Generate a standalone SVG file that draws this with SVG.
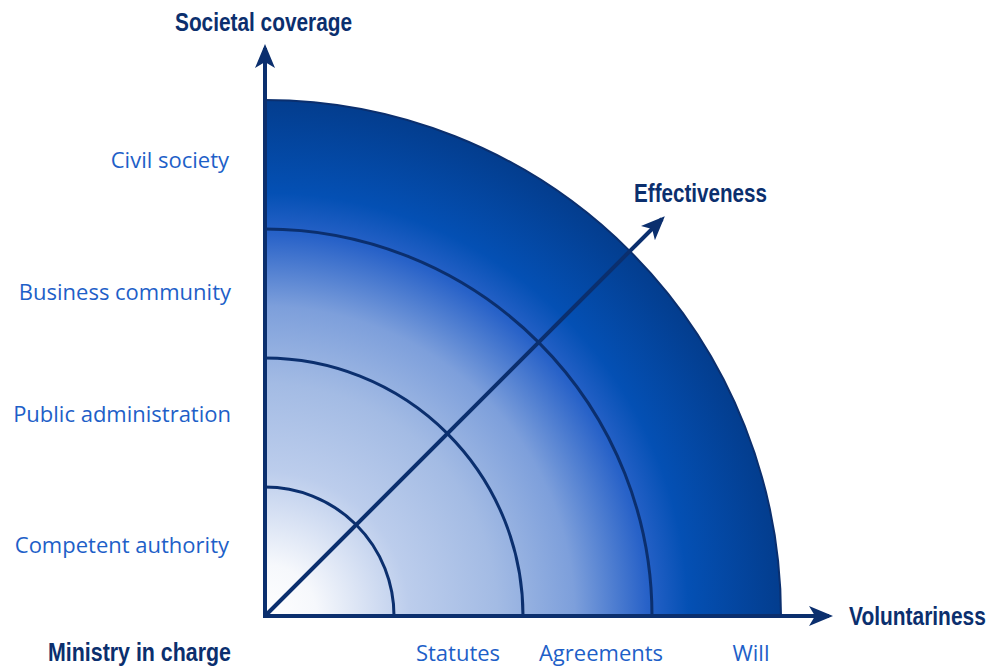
<svg xmlns="http://www.w3.org/2000/svg" width="994" height="667" viewBox="0 0 994 667">
<defs>
<radialGradient id="g" gradientUnits="userSpaceOnUse" cx="265" cy="616" r="516">
<stop offset="0" stop-color="#ffffff"/>
<stop offset="0.1" stop-color="#f6f8fc"/>
<stop offset="0.28" stop-color="#bccdec"/>
<stop offset="0.45" stop-color="#a3bbe4"/>
<stop offset="0.6" stop-color="#7d9fdb"/>
<stop offset="0.74" stop-color="#2862c8"/>
<stop offset="0.82" stop-color="#0450b4"/>
<stop offset="1" stop-color="#033d8e"/>
</radialGradient>
<marker id="ah" viewBox="0 0 24 20" refX="20" refY="10" markerWidth="24" markerHeight="20" markerUnits="userSpaceOnUse" orient="auto">
<path d="M0,0 L24,10 L0,20 L6,10 Z" fill="#0b2f6e"/>
</marker>
<style>
.arc{fill:none;stroke:#0b2f6e;stroke-width:3}
.ax{fill:none;stroke:#0b2f6e;stroke-width:4}
.lbl{font-family:"Open Sans","Liberation Sans",sans-serif;font-size:22px;fill:#1e5fc8}
.ttl{font-family:"Liberation Sans",sans-serif;font-weight:bold;font-size:26px;fill:#0b2f6e}
</style>
</defs>
<g id="disc">
<path d="M265,616 L781,616 A516,516 0 0 0 265,100 Z" fill="url(#g)"/>
<path d="M781,616 A516,516 0 0 0 265,100" fill="none" stroke="#0b2f6e" stroke-width="2"/>
</g>
<g id="rings">
<path class="arc" d="M394,616 A129,129 0 0 0 265,487"/>
<path class="arc" d="M523,616 A258,258 0 0 0 265,358"/>
<path class="arc" d="M652,616 A387,387 0 0 0 265,229"/>
</g>
<g id="connectors">
<line class="ax" x1="265" y1="618" x2="265" y2="48" marker-end="url(#ah)"/>
<line class="ax" x1="263" y1="616" x2="829" y2="616" marker-end="url(#ah)"/>
<line class="ax" x1="265" y1="616" x2="662" y2="219" stroke-width="3" marker-end="url(#ah)"/>
</g>
<g id="titles">
<text class="ttl" x="175" y="31" textLength="177" lengthAdjust="spacingAndGlyphs">Societal coverage</text>
<text class="ttl" x="634" y="202" textLength="133" lengthAdjust="spacingAndGlyphs">Effectiveness</text>
<text class="ttl" transform="translate(849,625) scale(0.8,1)" x="0" y="0" textLength="171" lengthAdjust="spacingAndGlyphs">Voluntariness</text>
<text class="ttl" x="48" y="661" textLength="183" lengthAdjust="spacingAndGlyphs">Ministry in charge</text>
</g>
<g id="labels">
<text class="lbl" x="229" y="168" text-anchor="end">Civil society</text>
<text class="lbl" x="231" y="300" text-anchor="end">Business community</text>
<text class="lbl" x="231" y="422" text-anchor="end">Public administration</text>
<text class="lbl" x="229" y="553" text-anchor="end">Competent authority</text>
<text class="lbl" x="458" y="661" text-anchor="middle">Statutes</text>
<text class="lbl" x="601" y="661" text-anchor="middle">Agreements</text>
<text class="lbl" x="751" y="661" text-anchor="middle">Will</text>
</g>
</svg>
